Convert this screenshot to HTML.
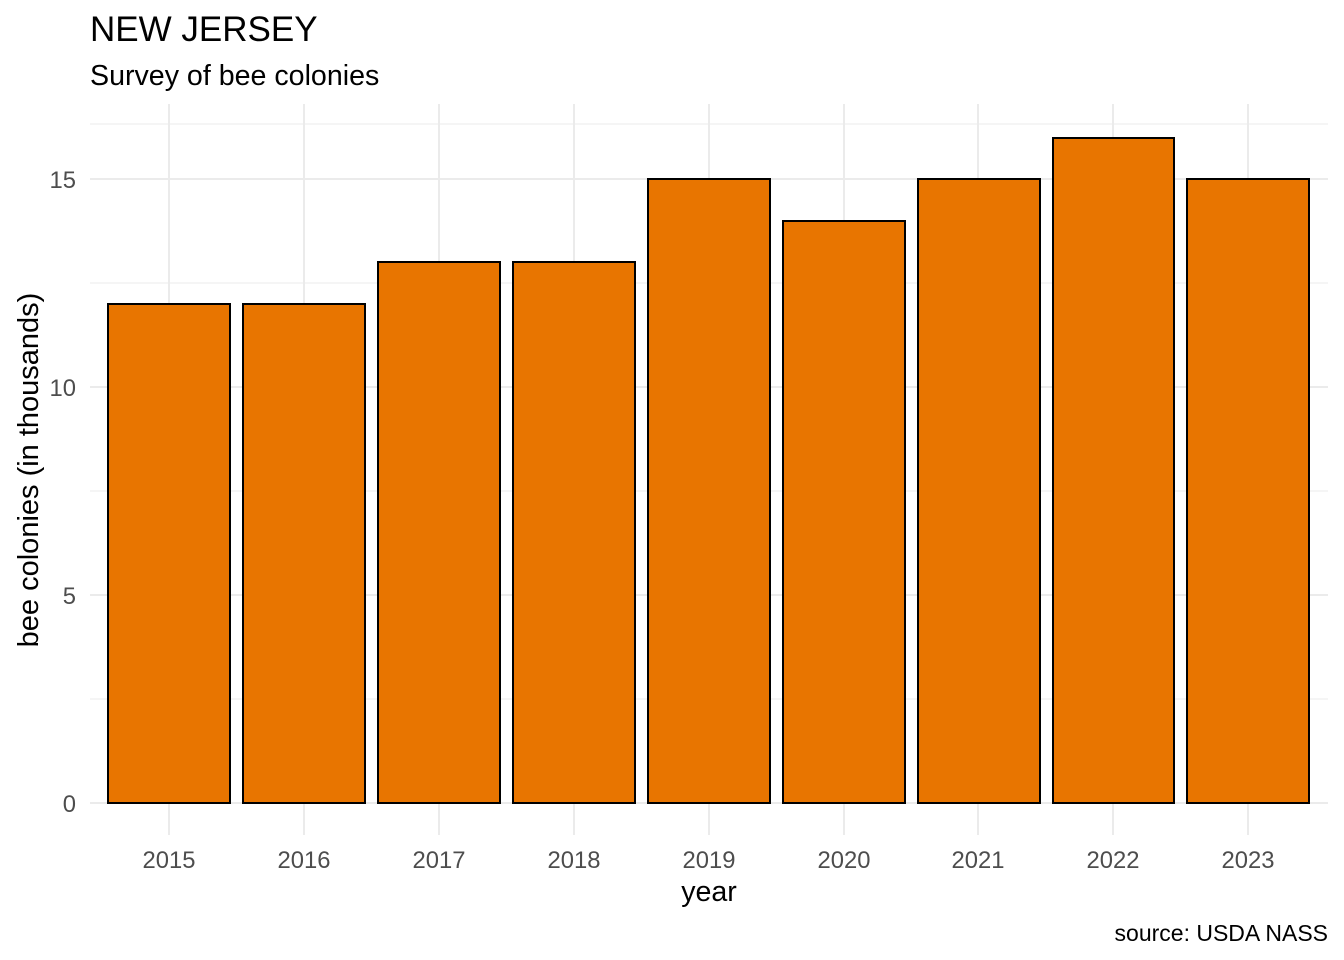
<!DOCTYPE html>
<html><head><meta charset="utf-8"><style>
html,body{margin:0;padding:0;background:#fff;}
svg{display:block;font-family:"Liberation Sans",Arial,sans-serif;}
</style></head><body>
<svg width="1344" height="960" viewBox="0 0 1344 960" xmlns="http://www.w3.org/2000/svg">
<rect width="1344" height="960" fill="#fff"/>
<text x="90" y="41" font-size="35" fill="#000">NEW JERSEY</text>
<text x="90" y="85" font-size="28.6" fill="#000">Survey of bee colonies</text>
<g stroke="#ebebeb" stroke-width="1">
<line x1="90" x2="1328" y1="699" y2="699"/>
<line x1="90" x2="1328" y1="491" y2="491"/>
<line x1="90" x2="1328" y1="283" y2="283"/>
<line x1="90" x2="1328" y1="124" y2="124"/>
</g>
<g stroke="#ebebeb" stroke-width="2">
<line x1="90" x2="1328" y1="803" y2="803"/>
<line x1="90" x2="1328" y1="595" y2="595"/>
<line x1="90" x2="1328" y1="387" y2="387"/>
<line x1="90" x2="1328" y1="179" y2="179"/>
<line x1="169" x2="169" y1="104" y2="835"/>
<line x1="304" x2="304" y1="104" y2="835"/>
<line x1="439" x2="439" y1="104" y2="835"/>
<line x1="574" x2="574" y1="104" y2="835"/>
<line x1="709" x2="709" y1="104" y2="835"/>
<line x1="844" x2="844" y1="104" y2="835"/>
<line x1="978" x2="978" y1="104" y2="835"/>
<line x1="1113" x2="1113" y1="104" y2="835"/>
<line x1="1248" x2="1248" y1="104" y2="835"/>
</g>
<g fill="#e87500" stroke="#000" stroke-width="2">
<rect x="108" y="304" width="122" height="499"/>
<rect x="243" y="304" width="122" height="499"/>
<rect x="378" y="262" width="122" height="541"/>
<rect x="513" y="262" width="122" height="541"/>
<rect x="648" y="179" width="122" height="624"/>
<rect x="783" y="221" width="122" height="582"/>
<rect x="918" y="179" width="122" height="624"/>
<rect x="1053" y="138" width="121" height="665"/>
<rect x="1187" y="179" width="122" height="624"/>
</g>
<g font-size="23.8" fill="#4d4d4d" text-anchor="end">
<text x="76" y="812">0</text>
<text x="76" y="604">5</text>
<text x="76" y="396">10</text>
<text x="76" y="188">15</text>
</g>
<g font-size="23.8" fill="#4d4d4d" text-anchor="middle">
<text x="169" y="868">2015</text>
<text x="304" y="868">2016</text>
<text x="439" y="868">2017</text>
<text x="574" y="868">2018</text>
<text x="709" y="868">2019</text>
<text x="844" y="868">2020</text>
<text x="978" y="868">2021</text>
<text x="1113" y="868">2022</text>
<text x="1248" y="868">2023</text>
</g>
<text x="709" y="901" font-size="28.6" text-anchor="middle" fill="#000">year</text>
<text transform="translate(38,470) rotate(-90)" font-size="29" text-anchor="middle" fill="#000">bee colonies (in thousands)</text>
<text x="1328" y="941" font-size="23" text-anchor="end" fill="#000">source: USDA NASS</text>
</svg>
</body></html>
